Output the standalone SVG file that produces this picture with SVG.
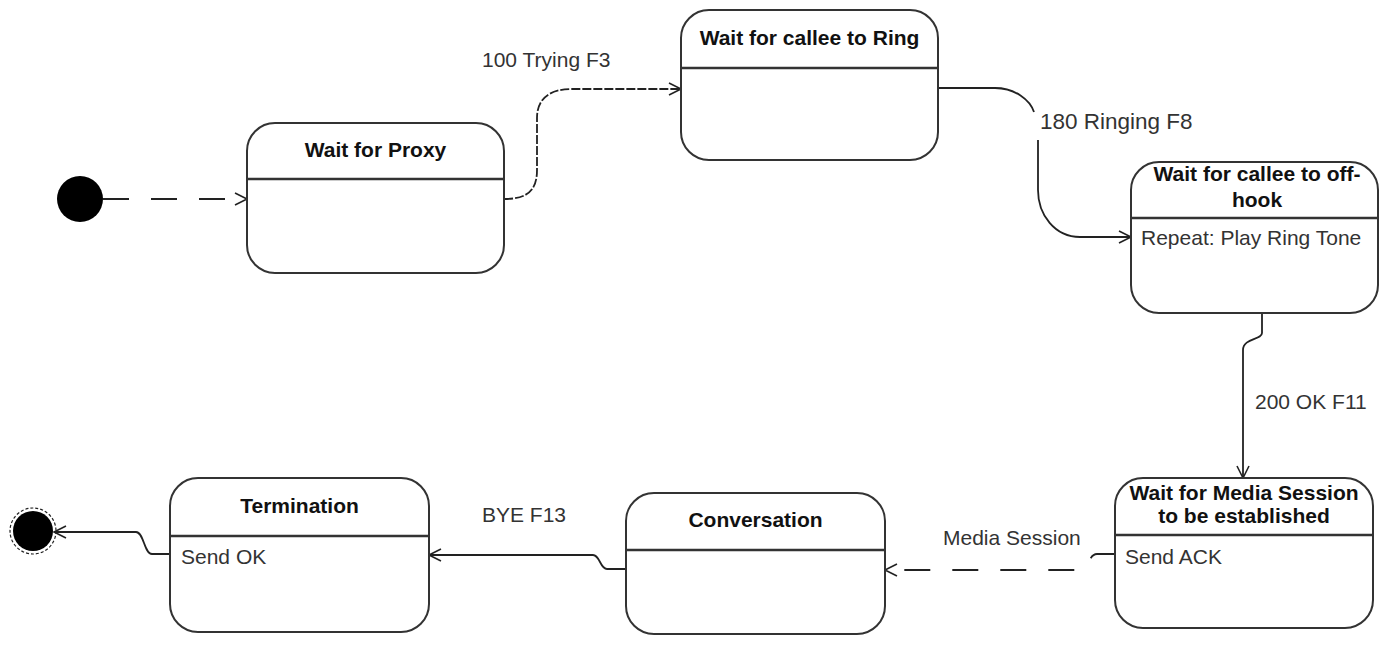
<svg xmlns="http://www.w3.org/2000/svg" width="1381" height="645" viewBox="0 0 1381 645">
<defs>
<marker id="arr" markerUnits="userSpaceOnUse" markerWidth="16" markerHeight="16" refX="13" refY="7" orient="auto">
<path d="M1,1 L13,7 L1,13" fill="none" stroke="#222" stroke-width="1.6"/>
</marker>
<style>
.box{fill:#fff;stroke:#333;stroke-width:2}
.div{stroke:#333;stroke-width:2.5}
.ttl{font-family:"Liberation Sans",Arial,sans-serif;font-size:21px;font-weight:bold;fill:#111;text-anchor:middle}
.lbl{font-family:"Liberation Sans",Arial,sans-serif;font-size:21px;fill:#333}
.con{fill:none;stroke:#222;stroke-width:1.8;marker-end:url(#arr)}
.dash{stroke-dasharray:26 22}
.fine{stroke-dasharray:9 2}
</style>
</defs>
<rect width="1381" height="645" fill="#fff"/>
<g id="connectors">
<path class="con dash" d="M103,199 H247"/>
<path class="con fine" d="M504,199 C528,199 537,190 537,170 V118 C537,100 548,89 572,89 H681"/>
<path class="con" d="M938,88 H995 C1015,88 1030,100 1034,112 M1038,140 V190 C1038,215 1055,237 1080,237 H1131"/>
<path class="con" d="M1262,313 V333 C1262,340 1243,338 1243,350 V478"/>
<path class="con dash" d="M1115,554 H1097 C1088,554 1090,570 1078,570 H885"/>
<path class="con" d="M626,569 H607 C600,569 600,555 593,555 H429"/>
<path class="con" d="M170,554 H152 C144,554 144,532 136,532 H54"/>
<text class="lbl" x="482" y="67">100 Trying F3</text>
<text class="lbl" x="1040" y="129" style="font-size:22.5px">180 Ringing F8</text>
<text class="lbl" x="1255" y="409">200 OK F11</text>
<text class="lbl" x="943" y="545">Media Session</text>
<text class="lbl" x="482" y="522">BYE F13</text>
</g>
<g id="initial">
<circle cx="80" cy="199" r="23" fill="#000"/>
</g>
<g id="final">
<circle cx="33" cy="531" r="20" fill="#000"/>
<circle cx="33" cy="531" r="23" fill="none" stroke="#222" stroke-width="1.2" stroke-dasharray="3 2"/>
</g>
<g id="waitProxy">
<rect class="box" x="247" y="123" width="257" height="150" rx="28"/>
<line class="div" x1="247" y1="179" x2="504" y2="179"/>
<text class="ttl" x="375.5" y="157">Wait for Proxy</text>
</g>
<g id="waitRing">
<rect class="box" x="681" y="10" width="257" height="150" rx="28"/>
<line class="div" x1="681" y1="68" x2="938" y2="68"/>
<text class="ttl" x="809.5" y="45">Wait for callee to Ring</text>
</g>
<g id="waitOffhook">
<rect class="box" x="1131" y="162" width="247" height="151" rx="28"/>
<line class="div" x1="1131" y1="218" x2="1378" y2="218"/>
<text class="ttl" x="1257" y="181">Wait for callee to off-</text>
<text class="ttl" x="1257" y="207">hook</text>
<text class="lbl" x="1141" y="245">Repeat: Play Ring Tone</text>
</g>
<g id="waitMedia">
<rect class="box" x="1115" y="478" width="258" height="150" rx="28"/>
<line class="div" x1="1115" y1="535" x2="1373" y2="535"/>
<text class="ttl" x="1244" y="500">Wait for Media Session</text>
<text class="ttl" x="1244" y="523">to be established</text>
<text class="lbl" x="1125" y="564">Send ACK</text>
</g>
<g id="conversation">
<rect class="box" x="626" y="493" width="259" height="141" rx="28"/>
<line class="div" x1="626" y1="550" x2="885" y2="550"/>
<text class="ttl" x="755.5" y="527">Conversation</text>
</g>
<g id="termination">
<rect class="box" x="170" y="478" width="259" height="154" rx="28"/>
<line class="div" x1="170" y1="536" x2="429" y2="536"/>
<text class="ttl" x="299.5" y="513">Termination</text>
<text class="lbl" x="181" y="564">Send OK</text>
</g>
</svg>
